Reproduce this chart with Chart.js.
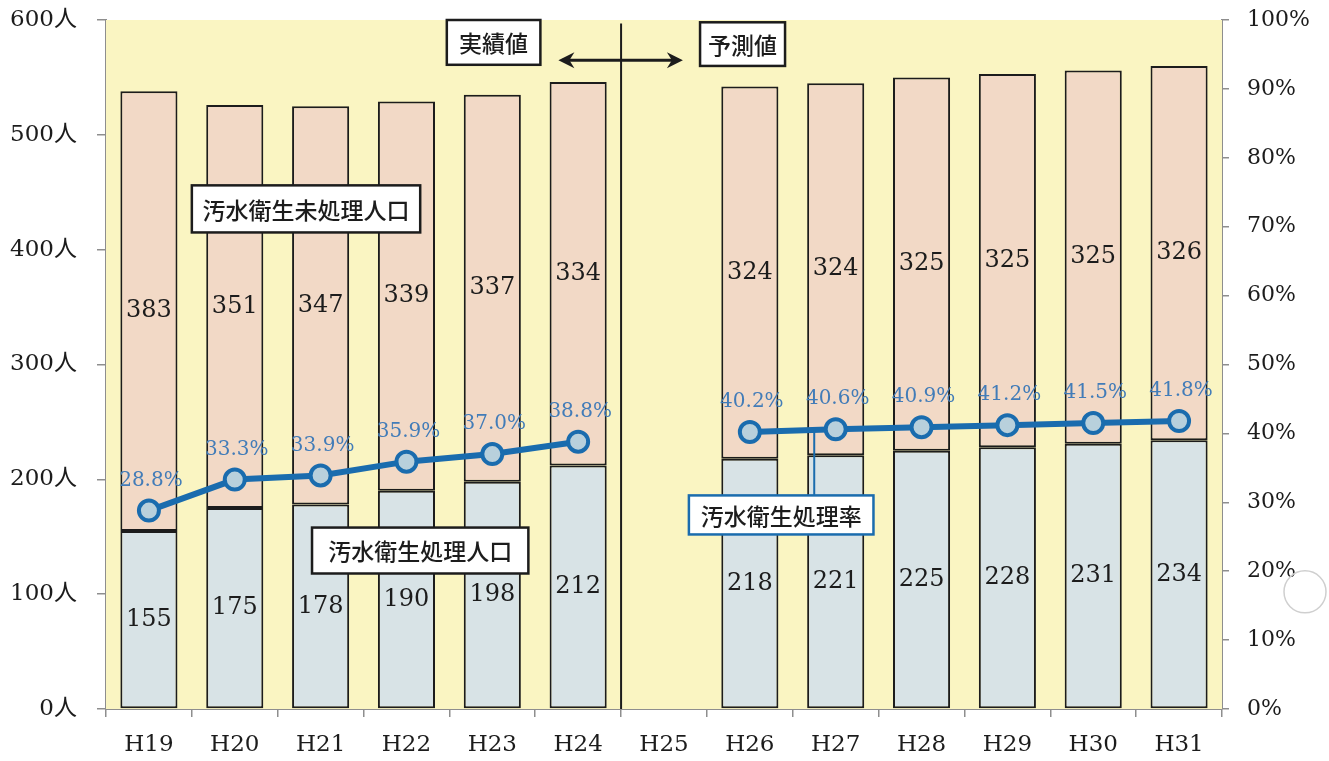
<!DOCTYPE html>
<html lang="ja">
<head>
<meta charset="utf-8">
<title>汚水衛生処理人口の推移</title>
<script src="https://cdn.jsdelivr.net/npm/chart.js@4.4.0/dist/chart.umd.min.js"></script>
<style>
  html, body { margin: 0; padding: 0; background: #fff; }
</style>
</head>
<body>
<canvas id="chart" width="1329" height="761"></canvas>
<script>
// ----------------- データ -----------------
const years = ['H19', 'H20', 'H21', 'H22', 'H23', 'H24', 'H25', 'H26', 'H27', 'H28', 'H29', 'H30', 'H31'];
const treated = [155, 175, 178, 190, 198, 212, null, 218, 221, 225, 228, 231, 234];     // 汚水衛生処理人口
const untreated = [383, 351, 347, 339, 337, 334, null, 324, 324, 325, 325, 325, 326];   // 汚水衛生未処理人口
const rate = [28.8, 33.3, 33.9, 35.9, 37.0, 38.8, null, 40.2, 40.6, 40.9, 41.2, 41.5, 41.8]; // 汚水衛生処理率
const peopleMax = 600;
const rateMax = 100;

const serif = "'DejaVu Serif', 'Noto Sans CJK JP', serif";
const gothic = "'Noto Sans CJK JP', sans-serif";
const ink = '#1c1c1c';
const lineBlue = '#1a6cae';

// ----------------- 注記 (枠・矢印・区切り線) -----------------
// x はカテゴリ位置, y は左軸(人)の値
const boxes = [
  { text: '実績値', x0: 3.47, x1: 4.56, y0: 600, y1: 561, color: ink },
  { text: '予測値', x0: 6.42, x1: 7.41, y0: 598, y1: 560, color: ink },
  { text: '汚水衛生未処理人口', x0: 0.50, x1: 3.16, y0: 456, y1: 415, color: ink },
  { text: '汚水衛生処理人口', x0: 1.90, x1: 4.42, y0: 158, y1: 118, color: ink },
  { text: '汚水衛生処理率', x0: 6.29, x1: 8.44, y0: 186, y1: 152, color: lineBlue }
];

const decoPlugin = {
  id: 'deco',
  beforeDatasetsDraw(chart) {
    const { ctx, chartArea: a } = chart;
    ctx.save();
    ctx.fillStyle = '#faf5c2';
    ctx.fillRect(a.left, a.top, a.right - a.left, a.bottom - a.top);
    ctx.restore();
  },
  afterDatasetsDraw(chart) {
    const { ctx, chartArea: a } = chart;
    const xs = chart.scales.x, ys = chart.scales.y, yr = chart.scales.y2;
    const px = v => xs.getPixelForValue(v);
    const py = v => ys.getPixelForValue(v);
    ctx.save();

    // 数値ラベル (棒)
    ctx.font = '24px ' + serif;
    ctx.fillStyle = ink;
    ctx.textAlign = 'center';
    ctx.textBaseline = 'middle';
    [0, 1].forEach(di => {
      const meta = chart.getDatasetMeta(di);
      const data = chart.data.datasets[di].data;
      meta.data.forEach((el, i) => {
        if (data[i] == null) return;
        ctx.fillText(String(data[i]), el.x, (el.y + el.base) / 2);
      });
    });

    // 実績値 / 予測値 の区切り線
    const xSplit = px(5.5);
    ctx.strokeStyle = ink;
    ctx.lineWidth = 2;
    ctx.beginPath();
    ctx.moveTo(xSplit, py(597));
    ctx.lineTo(xSplit, a.bottom);
    ctx.stroke();

    // 両矢印
    const ay = py(565), ax0 = px(4.77), ax1 = px(6.22);
    ctx.lineWidth = 3;
    ctx.beginPath();
    ctx.moveTo(ax0 + 4, ay); ctx.lineTo(ax1 - 4, ay);
    ctx.stroke();
    ctx.fillStyle = ink;
    [[ax0, 1], [ax1, -1]].forEach(([x, d]) => {
      ctx.beginPath();
      ctx.moveTo(x, ay);
      ctx.lineTo(x + d * 16, ay - 8);
      ctx.lineTo(x + d * 11, ay);
      ctx.lineTo(x + d * 16, ay + 8);
      ctx.closePath();
      ctx.fill();
    });

    // 処理率の引き出し線
    ctx.strokeStyle = lineBlue;
    ctx.lineWidth = 2;
    ctx.beginPath();
    ctx.moveTo(px(7.75), yr.getPixelForValue(40.4));
    ctx.lineTo(px(7.75), py(186));
    ctx.stroke();

    // 枠付きラベル
    ctx.font = '500 23px ' + gothic;
    boxes.forEach(b => {
      const x0 = px(b.x0), x1 = px(b.x1), y0 = py(b.y0), y1 = py(b.y1);
      ctx.fillStyle = '#ffffff';
      ctx.fillRect(x0, y0, x1 - x0, y1 - y0);
      ctx.strokeStyle = b.color;
      ctx.lineWidth = 2.5;
      ctx.strokeRect(x0, y0, x1 - x0, y1 - y0);
      ctx.fillStyle = ink;
      ctx.fillText(b.text, (x0 + x1) / 2, (y0 + y1) / 2 + 1);
    });

    // 処理率ラベル
    ctx.font = '20px ' + serif;
    ctx.fillStyle = '#427cb8';
    const lineMeta = chart.getDatasetMeta(2);
    lineMeta.data.forEach((el, i) => {
      if (rate[i] == null) return;
      ctx.fillText(rate[i].toFixed(1) + '%', el.x + 2, el.y - 30);
    });

    // スキャン時の穴跡
    ctx.strokeStyle = '#cfcfcf';
    ctx.lineWidth = 1.5;
    ctx.beginPath();
    ctx.arc(a.right + 83, yr.getPixelForValue(17), 21, 0, Math.PI * 2);
    ctx.stroke();

    ctx.restore();
  }
};

// ----------------- グラフ -----------------
const axisGrey = '#8e8e8e';

// 縦軸の幅を固定し、上下の自動余白をなくす
function fixVertical(width) {
  return scale => {
    scale.width = width;
    scale.paddingTop = 0;
    scale.paddingBottom = 0;
  };
}

new Chart(document.getElementById('chart').getContext('2d'), {
  data: {
    labels: years,
    datasets: [
      {
        type: 'bar', label: '汚水衛生処理人口', data: treated, yAxisID: 'y',
        backgroundColor: '#d8e3e6', borderColor: ink, borderWidth: 2, borderSkipped: false,
        barPercentage: 0.665, categoryPercentage: 1, order: 2
      },
      {
        type: 'bar', label: '汚水衛生未処理人口', data: untreated, yAxisID: 'y',
        backgroundColor: '#f2d9c6', borderColor: ink, borderWidth: 2, borderSkipped: false,
        barPercentage: 0.665, categoryPercentage: 1, order: 2
      },
      {
        type: 'line', label: '汚水衛生処理率', data: rate, yAxisID: 'y2',
        borderColor: lineBlue, borderWidth: 6, spanGaps: false, tension: 0,
        pointRadius: 10, pointBorderWidth: 4, pointBackgroundColor: '#b8d0dc',
        pointBorderColor: lineBlue, order: 1
      }
    ]
  },
  options: {
    responsive: false,
    animation: false,
    devicePixelRatio: 1,
    layout: { padding: { top: 20, right: 0, left: 0, bottom: 0 } },
    plugins: { legend: { display: false }, tooltip: { enabled: false } },
    scales: {
      x: {
        stacked: true,
        grid: { offset: true, drawOnChartArea: false, tickLength: 8, color: axisGrey, lineWidth: 1.5 },
        border: { color: axisGrey, width: 2 },
        ticks: { font: { family: serif, size: 23 }, color: ink, padding: 14, maxRotation: 0 },
        afterFit(scale) { scale.height = 52; }
      },
      y: {
        stacked: true, position: 'left', min: 0, max: peopleMax,
        grid: { drawOnChartArea: false, tickLength: 9, color: axisGrey, lineWidth: 1.5 },
        border: { color: axisGrey, width: 2 },
        ticks: { stepSize: 100, font: { family: serif, size: 23 }, color: ink, padding: 20, callback: v => v + '人' },
        afterFit: fixVertical(106)
      },
      y2: {
        position: 'right', min: 0, max: rateMax,
        grid: { drawOnChartArea: false, tickLength: 7, color: axisGrey, lineWidth: 1.5 },
        border: { color: axisGrey, width: 2 },
        ticks: { stepSize: 10, font: { family: serif, size: 22 }, color: ink, padding: 18, callback: v => v + '%' },
        afterFit: fixVertical(107)
      }
    }
  },
  plugins: [decoPlugin]
});
</script>
</body>
</html>
